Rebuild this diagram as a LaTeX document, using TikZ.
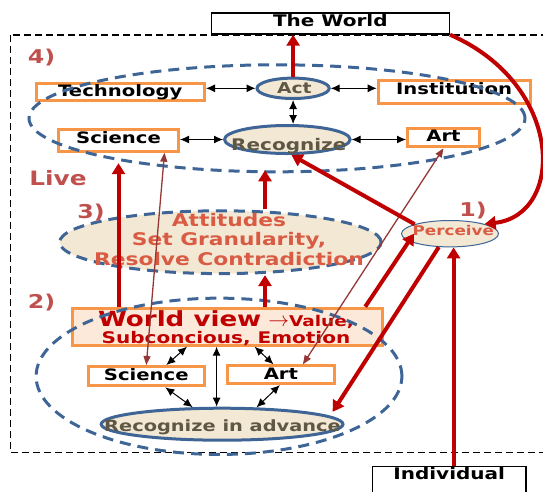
\documentclass[tikz,border=0pt]{standalone}
\usepackage{fontspec}
\setmainfont{DejaVu Sans}[FakeStretch=1.25]
\usetikzlibrary{shapes.geometric,arrows.meta}
\definecolor{boxorange}{HTML}{F79646}
\definecolor{ellblue}{HTML}{3E6595}
\definecolor{thickred}{HTML}{C00000}
\definecolor{thinbrown}{HTML}{953735}
\definecolor{labelred}{HTML}{C0504D}
\definecolor{attred}{HTML}{D95B43}
\definecolor{beige}{HTML}{F3E8D4}
\definecolor{peach}{HTML}{FDE9D9}
\definecolor{graytext}{HTML}{5E5744}
\newcommand{\fsz}[1]{\fontsize{#1}{#1}\selectfont\bfseries}

\begin{document}
\begin{tikzpicture}[x=1pt,y=-1pt,
    obox/.style={draw=boxorange,line width=3pt,fill=white,inner sep=0pt,text height=13.5pt,font=\fsz{15.7}},
    wbox/.style={draw=black,line width=1.5pt,fill=white,inner sep=0pt,font=\fsz{16}},
    bell/.style={ellipse,draw=ellblue,line width=3pt,fill=beige,inner sep=0pt},
    grpell/.style={ellipse,draw=ellblue,line width=3pt,dash pattern=on 11pt off 7pt,inner sep=0pt},
    bigred/.style={draw=thickred,line width=4pt,-{Triangle[length=11pt,width=13pt]}},
    thinarr/.style={draw=thinbrown,line width=1.3pt,{Triangle[length=9pt,width=7pt]}-{Triangle[length=9pt,width=7pt]}},
    dbl/.style={line width=1pt,{Latex[length=9pt,width=8pt]}-{Latex[length=9pt,width=8pt]}},
    lab/.style={text=labelred,inner sep=0pt,font=\fsz{19}},
    elltext/.style={anchor=base,inner sep=0pt,text=graytext,font=\fsz{15.5}}]

    \useasboundingbox (0,0) rectangle (543,491);
    \draw[line width=1.5pt,dash pattern=on 7pt off 4pt] (10.4,35) rectangle (560,452.5);

    % 3) attitudes
    \node[ellipse,draw=ellblue,line width=3pt,dash pattern=on 11pt off 7pt,fill=beige,inner sep=0pt,
        minimum width=321.4pt,minimum height=62.8pt] (att) at (220.4,242.2) {};
    \node[anchor=north,align=center,inner sep=0pt,text=attred,font=\fontsize{17.4}{19.5}\selectfont\bfseries]
        (atttxt) at (229,212.8) {Attitudes\\Set Granularity,\\Resolve Contradiction};

    % boxes
    \node[wbox,text height=13.25pt,text depth=7.95pt,minimum width=238pt] (world) at (330.3,23.35) {The World};
    \node[obox,text depth=3.5pt,minimum width=168.4pt] (tech) at (120.3,91.7) {Technology};
    \node[obox,text depth=9.5pt,minimum width=151.8pt] (inst) at (454.1,92) {Institution};
    \node[obox,text depth=7.9pt,minimum width=120pt] (sci) at (118.5,140.5) {Science};
    \node[obox,text depth=5.1pt,minimum width=72pt] (art) at (443.5,137.5) {Art};
    \node[obox,fill=peach,minimum width=310.3pt,minimum height=37pt] (wv) at (227.6,326.7) {};
    \node[anchor=north,align=center,inner sep=0pt,text=thickred,font=\fontsize{16}{17}\selectfont\bfseries]
        (wvtxt) at (226,310.6) {{\fontsize{20.9}{20.9}\selectfont World view} {\fontsize{22}{22}\selectfont$\rightarrow$}{\fontsize{14.8}{14.8}\selectfont Value,}\\Subconcious, Emotion};
    \node[obox,text depth=5.8pt,minimum width=116.4pt] (scib) at (146.3,376.2) {Science};
    \node[obox,text depth=4.2pt,minimum width=107.1pt] (artb) at (280.9,374.7) {Art};
    \node[wbox,anchor=north,text height=12.55pt,text depth=22pt,minimum width=153.5pt] (indiv) at (449.2,465.75) {Individual};

    % ellipses
    \node[bell,minimum width=72.2pt,minimum height=20.4pt] (act) at (293.1,88.3) {};
    \node[bell,minimum width=125.6pt,minimum height=28pt] (rec) at (287.3,139.5) {};
    \node[bell,minimum width=241.8pt,minimum height=32pt] (ria) at (222.1,424.2) {};
    \node[ellipse,draw=ellblue,line width=1pt,fill=beige,inner sep=0pt,minimum width=97pt,minimum height=26.4pt] (perc) at (450,233.7) {};
    \node[elltext,font=\fsz{15}] (acttxt) at (294.3,93) {Act};
    \node[elltext,font=\fsz{16}] (rectxt) at (288.8,150) {Recognize};
    \node[elltext,text=attred,font=\fsz{13.4}] (perctxt) at (453.3,235) {Perceive};
    \node[elltext] (riatxt) at (222.5,431.7) {Recognize in advance};

    % 4) and 2) groups
    \node[grpell,minimum width=496pt,minimum height=107pt] (lvfour) at (277,118.3) {};
    \node[grpell,minimum width=365.8pt,minimum height=156.3pt] (lvtwo) at (219,376.3) {};

    % labels
    \node[lab] (lbfour) at (41.5,57.5) {4)};
    \node[lab,font=\fsz{19.8}] (lblive) at (58,178.3) {Live};
    \node[lab] (lbthree) at (91,212.5) {3)};
    \node[lab] (lbone) at (473,210.5) {1)};
    \node[lab] (lbtwo) at (41.5,302.5) {2)};

    % black links
    \draw[dbl] (tech.east |- act.west) -- (act.west);
    \draw[dbl] (act.east) -- (inst.west |- act.east);
    \draw[dbl] (act.south) -- (act.south |- rec.north);
    \draw[dbl] (sci.east |- rec.west) -- (rec.west);
    \draw[dbl] (rec.east) -- (art.west |- rec.east);
    \coordinate (wvmid) at ([xshift=-11pt]wv.south);
    \draw[dbl] ([xshift=-40.6pt]wv.south) -- ([xshift=20pt]scib.north);
    \draw[dbl] (wvmid) -- (wvmid |- ria.north);
    \draw[dbl] ([xshift=27pt]wv.south) -- ([xshift=-7.4pt]artb.north);
    \draw[dbl] ([xshift=19pt]scib.south) -- (ria.150);
    \draw[dbl] ([xshift=-1pt]artb.south) -- (ria.26);

    % thin links
    \draw[thinarr] (scib.north) -- ([xshift=46pt]sci.south);
    \draw[thinarr] ([xshift=22pt]artb.north) -- (art.south);

    % red arrows
    \coordinate (midup) at (265,0);
    \coordinate (indup) at ([xshift=4.4pt]indiv.north);
    \draw[bigred] (act.north) -- (act.north |- world.south);
    \draw[bigred] (world.south east) .. controls (565,85) and (565,215) .. (perc.north east);
    \draw[bigred] (perc.165) -- (rec.-75);
    \draw[bigred,shorten >=-3pt] (att.north -| midup) -- (lvfour.south -| midup);
    \draw[bigred] (wv.north -| midup) -- (att.south -| midup);
    \draw[bigred] (wv.north -| sci.south) -- ([yshift=-10.5pt]sci.south);
    \draw[bigred] ([xshift=-19pt]wv.north east) -- ([xshift=13pt]perc.west);
    \draw[bigred] (perc.230) -- ([xshift=24pt]ria.north east);
    \draw[bigred] (indup) -- (indup |- perc.south);
\end{tikzpicture}
\end{document}
